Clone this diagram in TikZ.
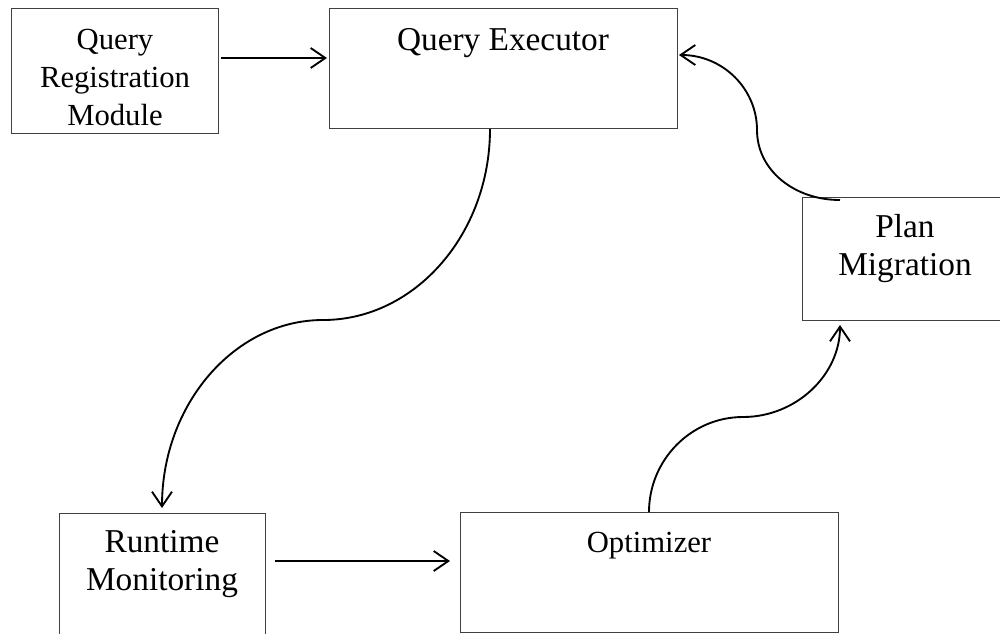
\documentclass[tikz,border=0pt]{standalone}
\usepackage{fontspec}
\setmainfont{Liberation Serif}
\usetikzlibrary{arrows.meta,calc}
\begin{document}
\begin{tikzpicture}[x=0.75pt,y=-0.75pt,
  box/.style={draw=black!75, line width=0.75pt, inner sep=0pt, outer sep=0pt},
  lbl/.style={inner sep=0pt, align=center, anchor=base},
  big/.style={font=\fontsize{25}{28.5}\selectfont},
  small/.style={font=\fontsize{23}{28.5}\selectfont},
  arr/.style={-{Straight Barb[length=11pt,width=15pt]}, line width=1.4pt, black}]
\useasboundingbox (0,0) rectangle (1000,633);
\clip (0,0) rectangle (1000,633);

% boxes
\node[box, minimum width=155.25pt, minimum height=93.75pt] (qrm) at (114.5,70.5) {};
\node[box, minimum width=261pt, minimum height=90pt] (qe) at (503,68) {};
\node[box, minimum width=157.5pt, minimum height=92.25pt] (pm) at (907,258.5) {};
\node[box, minimum width=154.5pt, minimum height=102.75pt] (rm) at (162,581.5) {};
\node[box, minimum width=283.5pt, minimum height=90pt] (opt) at (649,572) {};

% labels (anchored at the baseline of the last line)
\node[lbl, small] (qrmt) at (115,125) {Query\\Registration\\Module};
\node[lbl, big] (qet) at (503,50) {Query Executor};
\node[lbl, big] (pmt) at (905,275) {Plan\\Migration};
\node[lbl, big] (rmt) at (162,590) {Runtime\\Monitoring};
\node[lbl, small] (optt) at (649,552) {Optimizer};

% waypoints of the curved connectors
\coordinate (m1) at (323,320);
\coordinate (m2) at (743,417);
\coordinate (m3) at (757,130);

% straight connectors
\draw[arr] ($(qrm.east)+(3,-12.5)$) -- ($(qe.west)+(-2,-10)$);
\draw[arr] ($(rm.east)+(10,-20.5)$) -- ($(opt.west)+(-10,-11)$);

% curved connectors
\draw[arr] ($(qe.south)+(-13,1)$) .. controls +(0,105) and +(92,0) .. (m1)
  .. controls +(-89,0) and +(0,-103) .. ($(rm.north)+(0,-5)$);
\draw[arr] (opt.north) .. controls +(0,-52) and +(-52,0) .. (m2)
  .. controls +(53,0) and +(0,50) .. ($(pm.south)+(-67,5)$);
\draw[arr] ($(pm.north)+(-67,3)$) .. controls +(-46,0) and +(0,40) .. (m3)
  .. controls +(0,-41) and +(44,0) .. ($(qe.east)+(2,-13)$);
\end{tikzpicture}
\end{document}
